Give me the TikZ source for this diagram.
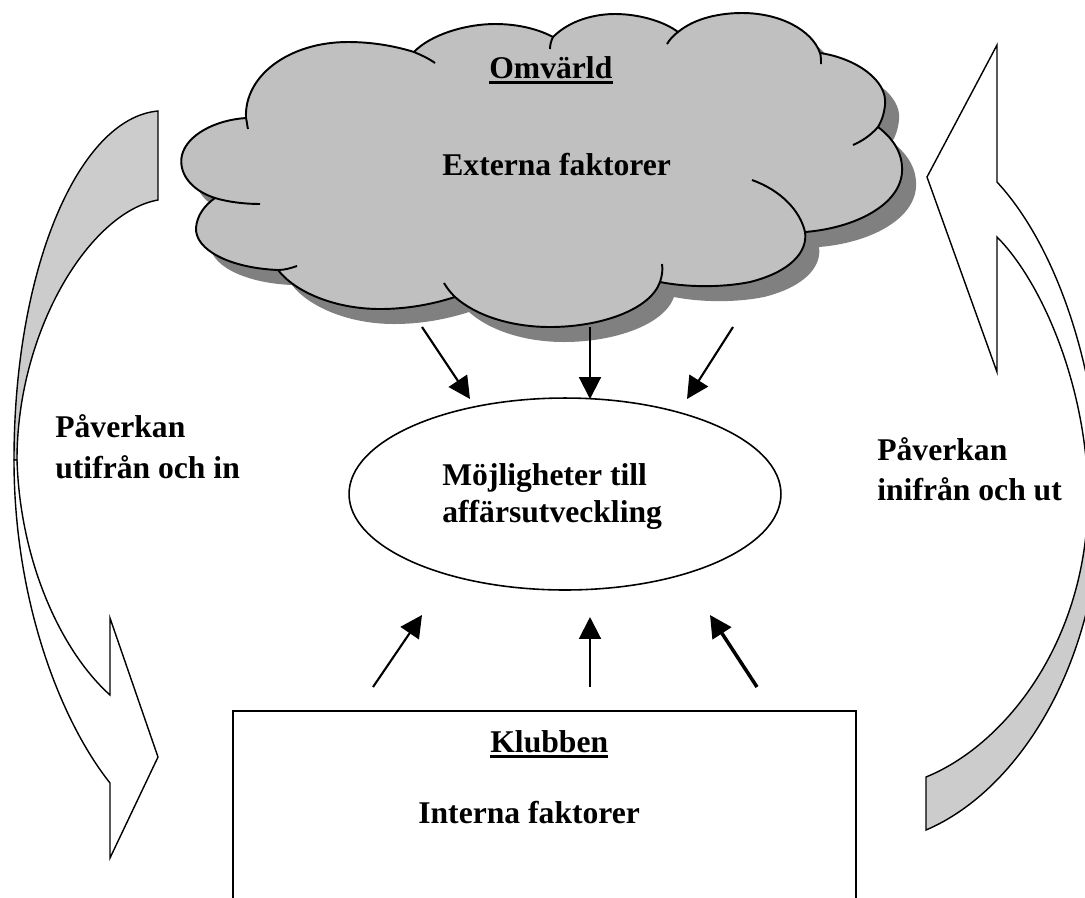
\documentclass[tikz,border=0pt]{standalone}
\usepackage{fontspec}
\setmainfont{Liberation Serif}
\usetikzlibrary{arrows.meta,shapes.geometric}
\definecolor{cloudgrey}{HTML}{C0C0C0}
\definecolor{shadowgrey}{HTML}{808080}
\definecolor{bandgrey}{HTML}{CCCCCC}
\begin{document}
\begin{tikzpicture}[x=0.02cm,y=-0.02cm,
  txt/.style={font=\fontsize{18}{21}\selectfont\bfseries, inner sep=0pt, anchor=base west},
  conn/.style={line width=1.2pt, -{Triangle[length=12.5pt,width=12.5pt]}},
  connthick/.style={line width=2pt, -{Triangle[length=12.5pt,width=12.5pt]}},
  cloudline/.style={draw=black, line width=1.1pt},
  bandwhite/.style={draw=black, fill=white, line width=0.8pt, line join=miter},
  bandgreyst/.style={draw=black, fill=bandgrey, line width=0.8pt, line join=miter},
  uline/.style={line width=1.3pt}
]
\useasboundingbox (0,0) rectangle (1085,897);
\fill[white] (0,0) rectangle (1085,897);
\clip (0,0) rectangle (1085,897);

\def\cloudpath{(246,118) .. controls (244,75) and (290,42) .. (348,42) .. controls (375,42) and (398,47) .. (414,52)
 .. controls (430,35) and (465,24) .. (495,24) .. controls (520,24) and (540,30) .. (553,37)
 .. controls (570,20) and (595,14) .. (615,14) .. controls (640,14) and (665,22) .. (678,32)
 .. controls (695,18) and (720,13) .. (742,13) .. controls (780,13) and (812,30) .. (820,53)
 .. controls (855,58) and (888,80) .. (885,105) .. controls (884,115) and (881,122) .. (878,127)
 .. controls (895,140) and (903,155) .. (902,172) .. controls (900,205) and (855,228) .. (805,232)
 .. controls (808,252) and (790,272) .. (750,282) .. controls (720,288) and (685,287) .. (660,282)
 .. controls (650,310) and (600,327) .. (550,327) .. controls (510,327) and (475,315) .. (455,297)
 .. controls (430,305) and (405,309) .. (380,309) .. controls (335,309) and (295,292) .. (278,270)
 .. controls (230,268) and (195,250) .. (196,228) .. controls (197,215) and (205,205) .. (215,198)
 .. controls (190,190) and (178,172) .. (182,155) .. controls (187,135) and (215,120) .. (246,118) -- cycle}

% cloud shadow
\begin{scope}[shift={(14,15)}]
  \fill[shadowgrey] \cloudpath;
\end{scope}
% cloud body
\path[fill=cloudgrey, cloudline, line join=round] \cloudpath;
% inner tails of the cloud arcs
\draw[cloudline] (246,118) .. controls (247,122) and (247,125) .. (248,129);
\draw[cloudline] (414,52) .. controls (421,55) and (428,58) .. (435,63);
\draw[cloudline] (553,37) .. controls (551,41) and (550,45) .. (550,49);
\draw[cloudline] (678,32) .. controls (674,35) and (670,39) .. (667,44);
\draw[cloudline] (820,53) .. controls (821,56) and (821,60) .. (821,64);
\draw[cloudline] (878,127) .. controls (870,136) and (862,141) .. (853,145);
\draw[cloudline] (805,232) .. controls (800,210) and (780,190) .. (752,180);
\draw[cloudline] (660,282) .. controls (662,276) and (663,270) .. (662,264);
\draw[cloudline] (455,297) .. controls (450,292) and (447,288) .. (444,283);
\draw[cloudline] (278,270) .. controls (285,270) and (291,268) .. (297,266);
\draw[cloudline] (215,198) .. controls (228,202) and (245,204) .. (260,204);

\node[txt] (omv) at (489,78) {Omvärld};
\draw[uline] ([yshift=-2.6pt]omv.base west) -- ([yshift=-2.6pt]omv.base east);
\node[txt] (ext) at (442,175) {Externa faktorer};

% left curved arrow
\path[bandgreyst] (158,111) .. controls (79,118) and (14,268) .. (14,460) -- (17,460)
   .. controls (17,330) and (90,212) .. (158,200) -- cycle;
\path[bandwhite] (14,460) .. controls (14,600) and (60,720) .. (110,783) -- (110,858) -- (158,757)
   -- (110,618) -- (110,695) .. controls (60,650) and (20,560) .. (17,460) -- cycle;

% right curved arrow
\path[bandwhite] (1100,500) .. controls (1100,380) and (1060,250) .. (997,182) -- (997,45) -- (927,177)
   -- (997,372) -- (997,237) .. controls (1040,280) and (1085,380) .. (1088,490) -- cycle;
\path[bandgreyst] (1100,500) .. controls (1100,660) and (1020,790) .. (926,830) -- (926,777)
   .. controls (1005,745) and (1090,640) .. (1088,490) -- cycle;

% side texts
\node[txt] (pl1) at (55,437) {Påverkan};
\node[txt] (pl2) at (55,478) {utifrån och in};
\node[txt] (pr1) at (877,460) {Påverkan};
\node[txt] (pr2) at (877,500) {inifrån och ut};

% central ellipse
\node[ellipse, draw, line width=0.9pt, fill=white, minimum width=8.64cm, minimum height=3.84cm, inner sep=0pt] (mojl) at (565,494) {};
\node[txt] (m1) at (442,485) {Möjligheter till};
\node[txt] (m2) at (442,522) {affärsutveckling};

% club box
\node[draw, line width=1.1pt, minimum width=12.46cm, minimum height=8cm, anchor=north west, inner sep=0pt] (klubben) at (232,710) {};
\node[txt] (klb) at (490,752) {Klubben};
\draw[uline] ([yshift=-2.6pt]klb.base west) -- ([yshift=-2.6pt]klb.base east);
\node[txt] (int) at (418,823) {Interna faktorer};

% arrows cloud -> ellipse
\coordinate (t1s) at (422,327); \coordinate (t1e) at (470,399);
\coordinate (t2s) at (590,327); \coordinate (t2e) at (590,399);
\coordinate (t3s) at (733,327); \coordinate (t3e) at (687,399);
\draw[conn] (t1s) -- (t1e);
\draw[conn] (t2s) -- (t2e);
\draw[conn] (t3s) -- (t3e);
% arrows club -> ellipse
\coordinate (b1s) at (373,687); \coordinate (b1e) at (422,615);
\coordinate (b2s) at (590,687); \coordinate (b2e) at (590,617);
\coordinate (b3s) at (757,687); \coordinate (b3e) at (710,615);
\draw[conn] (b1s) -- (b1e);
\draw[conn] (b2s) -- (b2e);
\draw[connthick] (b3s) -- (b3e);
\end{tikzpicture}
\end{document}
